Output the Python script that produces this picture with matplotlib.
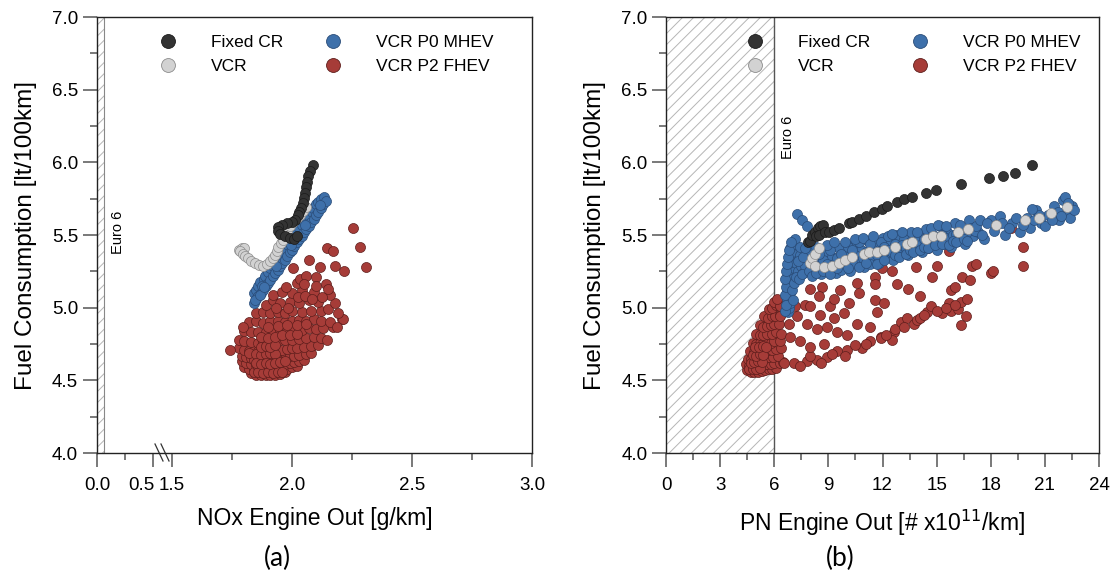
import numpy as np
import matplotlib.pyplot as plt
from matplotlib.patches import Rectangle
from matplotlib.lines import Line2D
from matplotlib.transforms import ScaledTranslation

plt.rcParams['font.family'] = ['Liberation Sans', 'DejaVu Sans']
plt.rcParams['hatch.linewidth'] = 0.7

# ---------------- (a) NOx vs fuel consumption ----------------
a_fixed_x = [2.086, 2.075, 2.068, 2.064, 2.058, 2.054, 2.05, 2.044, 2.038, 2.03,
             2.026, 2.013, 1.999, 1.978, 1.957, 1.943, 1.94, 1.95, 1.97, 1.99,
             2.01, 2.02]
a_fixed_y = [5.98, 5.942, 5.906, 5.867, 5.828, 5.791, 5.752, 5.718, 5.684, 5.66,
             5.638, 5.603, 5.591, 5.58, 5.569, 5.553, 5.53, 5.51, 5.495, 5.48,
             5.475, 5.49]

a_vcr_x = [1.78, 1.79, 1.80, 1.785, 1.797, 1.805, 1.818, 1.83, 1.846, 1.862, 1.88,
           1.895, 1.908, 1.92, 1.929, 1.936, 1.943, 1.954, 1.964, 1.972, 1.98,
           1.992, 2.005, 2.02, 2.033, 2.045, 2.058]
a_vcr_y = [5.40, 5.41, 5.41, 5.39, 5.37, 5.355, 5.34, 5.32, 5.305, 5.295, 5.29,
           5.30, 5.32, 5.34, 5.36, 5.39, 5.42, 5.445, 5.465, 5.50, 5.53,
           5.56, 5.59, 5.615, 5.64, 5.665, 5.69]

a_mhev_x = [1.84, 1.842, 1.85, 1.852, 1.86, 1.858, 1.87, 1.868, 1.88, 1.882,
            1.89, 1.888, 1.90, 1.902, 1.91, 1.908, 1.92, 1.922, 1.93, 1.928,
            1.94, 1.942, 1.95, 1.948, 1.96, 1.962, 1.97, 1.968, 1.98, 1.982,
            1.99, 1.988, 2.00, 2.002, 2.01, 2.008, 2.02, 2.022, 2.03, 2.028,
            2.04, 2.042, 2.05, 2.048, 2.06, 2.062, 2.07, 2.068, 2.08, 2.082,
            2.09, 2.088, 2.10, 2.102, 2.11, 2.108, 2.12, 2.122, 2.13, 2.135,
            2.14, 1.875, 1.935, 1.995, 2.055, 2.115, 1.845, 1.865, 1.885]
a_mhev_y = [5.03, 5.10, 5.06, 5.125, 5.08, 5.15, 5.10, 5.175, 5.12, 5.20,
            5.15, 5.22, 5.17, 5.245, 5.19, 5.27, 5.215, 5.29, 5.24, 5.315,
            5.26, 5.34, 5.285, 5.36, 5.31, 5.385, 5.33, 5.41, 5.355, 5.43,
            5.38, 5.455, 5.40, 5.475, 5.425, 5.50, 5.45, 5.52, 5.47, 5.545,
            5.495, 5.57, 5.52, 5.59, 5.54, 5.615, 5.565, 5.64, 5.59, 5.66,
            5.61, 5.685, 5.635, 5.71, 5.66, 5.73, 5.685, 5.75, 5.71, 5.76,
            5.735, 5.15, 5.29, 5.43, 5.57, 5.705, 5.05, 5.09, 5.14]

a_fhev_x = [1.83, 1.85, 1.87, 1.89, 1.91, 1.93, 1.95, 1.97,
            1.80, 1.82, 1.84, 1.86, 1.88, 1.90, 1.92, 1.94, 1.96, 1.98, 2.00, 2.02,
            1.79, 1.81, 1.83, 1.85, 1.87, 1.89, 1.91, 1.93, 1.95, 1.97, 1.99, 2.01, 2.03, 2.05,
            1.79, 1.81, 1.83, 1.85, 1.87, 1.89, 1.91, 1.93, 1.95, 1.97, 1.99, 2.01, 2.03, 2.06, 2.08,
            1.78, 1.80, 1.82, 1.84, 1.86, 1.88, 1.90, 1.92, 1.94, 1.96, 1.98, 2.00, 2.02, 2.05, 2.08, 2.11,
            1.78, 1.80, 1.83, 1.86, 1.88, 1.91, 1.94, 1.97, 2.00, 2.03, 2.06, 2.09, 2.12, 2.145,
            1.80, 1.83, 1.86, 1.89, 1.92, 1.95, 1.98, 2.01, 2.04, 2.07, 2.10, 2.13, 2.17,
            1.82, 1.85, 1.88, 1.91, 1.94, 1.97, 2.00, 2.03, 2.06, 2.09, 2.12, 2.16, 2.21,
            1.85, 1.88, 1.91, 1.94, 1.97, 2.00, 2.04, 2.08, 2.12, 2.15,
            1.89, 1.92, 1.95, 1.99, 2.03, 2.07, 2.11, 2.18,
            1.92, 1.96, 2.00, 2.04, 2.09, 2.16, 2.14,
            1.975, 2.02, 2.033, 2.005, 2.072, 2.117, 2.145, 2.17, 2.18, 2.217,
            2.256, 2.283, 2.307, 2.06, 2.10,
            1.74, 1.797, 2.214, 2.186,
            1.84, 1.86, 1.88, 1.90, 1.92, 1.84, 1.86, 1.88, 1.90, 1.92, 1.94,
            1.82, 1.85, 1.87, 1.89, 1.91, 1.93, 1.87, 1.89, 1.91, 1.93,
            1.86, 1.88, 1.90, 1.92, 1.94, 1.96, 1.85, 1.87, 1.89, 1.91, 1.93, 1.95, 1.97,
            1.87, 1.90, 1.93, 1.96, 1.99, 2.02, 1.90, 1.94, 1.98, 2.02, 2.06,
            1.935, 1.985, 2.025, 2.055, 2.085, 2.125, 2.05, 2.1, 2.15, 2.19]
a_fhev_y = [4.55, 4.54, 4.535, 4.54, 4.535, 4.54, 4.545, 4.555,
            4.59, 4.58, 4.575, 4.57, 4.565, 4.57, 4.565, 4.57, 4.575, 4.58, 4.59, 4.60,
            4.63, 4.62, 4.61, 4.605, 4.60, 4.60, 4.605, 4.60, 4.61, 4.615, 4.62, 4.625, 4.63, 4.64,
            4.67, 4.66, 4.655, 4.65, 4.645, 4.65, 4.645, 4.65, 4.655, 4.66, 4.665, 4.67, 4.675, 4.68, 4.69,
            4.72, 4.71, 4.705, 4.70, 4.70, 4.695, 4.70, 4.705, 4.70, 4.71, 4.715, 4.72, 4.72, 4.73, 4.735, 4.74,
            4.78, 4.77, 4.765, 4.76, 4.765, 4.76, 4.77, 4.775, 4.78, 4.785, 4.79, 4.80, 4.79, 4.78,
            4.84, 4.83, 4.835, 4.83, 4.84, 4.845, 4.84, 4.85, 4.845, 4.86, 4.85, 4.86, 4.87,
            4.90, 4.91, 4.895, 4.905, 4.91, 4.90, 4.91, 4.915, 4.905, 4.92, 4.91, 4.90, 4.92,
            4.96, 4.97, 4.965, 4.97, 4.96, 4.975, 4.97, 4.98, 4.975, 4.99,
            5.02, 5.05, 5.03, 5.04, 5.03, 5.05, 5.04, 5.03,
            5.09, 5.11, 5.10, 5.12, 5.11, 5.09, 5.16,
            5.14, 5.17, 5.20, 5.27, 5.33, 5.28, 5.41, 5.39, 5.29, 5.25,
            5.55, 5.42, 5.28, 5.22, 5.21,
            4.71, 4.87, 4.92, 4.87,
            4.56, 4.59, 4.58, 4.59, 4.585, 4.64, 4.63, 4.625, 4.635, 4.63, 4.64,
            4.69, 4.68, 4.675, 4.68, 4.685, 4.68, 4.73, 4.735, 4.73, 4.74,
            4.555, 4.55, 4.555, 4.55, 4.555, 4.56, 4.62, 4.615, 4.62, 4.615, 4.62, 4.625, 4.63,
            4.80, 4.79, 4.80, 4.81, 4.81, 4.82, 4.87, 4.875, 4.88, 4.88, 4.89,
            5.00, 5.00, 5.07, 5.08, 5.06, 5.07, 5.16, 5.15, 5.13, 4.96]

# ---------------- (b) PN vs fuel consumption ----------------
b_fixed_x = [7.85, 8.0, 8.1, 8.25, 8.4, 8.55, 8.7, 8.3, 8.5, 8.8,
             9.02, 9.3, 9.57, 10.13, 10.32, 10.69, 11.06, 11.52, 11.98, 12.26,
             12.81, 13.18, 13.65, 14.39, 14.96, 16.37, 17.93, 18.67, 19.33, 20.3]
b_fixed_y = [5.45, 5.46, 5.50, 5.52, 5.55, 5.56, 5.57, 5.49, 5.50, 5.52,
             5.52, 5.535, 5.55, 5.585, 5.59, 5.61, 5.63, 5.66, 5.68, 5.70,
             5.73, 5.745, 5.76, 5.79, 5.81, 5.85, 5.89, 5.905, 5.93, 5.98]

b_vcr_x = [8.0, 8.09, 8.28, 8.46, 8.28, 8.74, 9.2, 9.57, 9.94, 10.32, 10.96,
           11.24, 11.7, 12.07, 12.72, 13.37, 13.65, 14.39, 14.8, 15.22, 16.19,
           16.76, 18.28, 19.89, 20.67, 21.33, 22.22]
b_vcr_y = [5.305, 5.34, 5.37, 5.41, 5.29, 5.28, 5.29, 5.305, 5.33, 5.35, 5.37,
           5.38, 5.385, 5.40, 5.42, 5.44, 5.45, 5.47, 5.49, 5.49, 5.52,
           5.54, 5.57, 5.60, 5.62, 5.65, 5.69]

b_mhev_x = [6.75, 6.8, 6.85, 6.7, 6.8, 6.9, 6.7, 6.85, 6.75, 6.95, 6.7, 6.85, 7.0,
            6.75, 6.9, 7.1, 6.8, 6.95, 7.2, 6.85, 7.0, 6.9, 7.1, 7.17, 7.26, 7.54,
            7.81, 7.4, 7.3, 7.5,
            7.6, 7.8, 8.0, 8.2, 8.4, 8.6, 8.8, 9.0, 9.2, 9.4, 9.6, 9.8, 10.0, 10.2,
            10.4, 10.6, 10.8, 11.0, 11.2, 11.4, 11.6, 11.8, 12.0, 12.2, 12.4, 12.6,
            12.8, 13.0, 13.2, 13.4, 13.6, 13.8, 14.0, 14.2, 14.4, 14.6, 14.8, 15.0,
            15.2, 15.4, 15.6, 15.8, 16.0, 16.2, 16.4, 16.6, 16.8, 17.0, 17.3, 17.6,
            18.0, 18.2, 18.5, 18.8, 19.2, 19.6, 20.0, 20.2, 20.5, 20.8, 21.2, 21.5,
            21.8, 22.0, 22.2, 22.4, 22.5, 22.1,
            7.7, 7.9, 8.1, 8.3, 8.5, 8.7, 8.9, 9.1, 9.3, 9.5, 9.7, 9.9, 10.1, 10.3,
            10.5, 10.7, 10.9, 11.1, 11.3, 11.5, 11.7, 11.9, 12.1, 12.3, 12.5, 12.7,
            12.9, 13.1, 13.3, 13.5, 13.7, 13.9, 14.1, 14.3, 14.5, 14.7, 14.9, 15.1,
            15.3, 15.5, 15.7, 15.9, 16.1, 16.3, 16.5, 16.7, 16.9, 17.1,
            6.6, 6.65, 6.6, 6.65, 6.6, 6.65, 6.7, 6.75, 6.8, 6.95, 7.05, 7.0, 7.1,
            7.2, 7.3, 7.45, 7.35, 7.55, 7.6, 7.7, 7.9, 8.1, 8.3, 8.5, 8.7, 8.9, 9.1,
            9.3, 9.5, 9.7, 9.9, 10.1, 10.3, 10.5, 10.7, 10.9, 11.1, 11.3, 11.5, 11.7,
            11.9, 12.1, 12.3, 12.5, 12.7, 12.9, 13.1, 13.3, 13.5, 13.7, 13.9, 14.1,
            14.3, 14.5, 14.7, 14.9, 15.1, 15.3, 15.5, 15.7, 15.9, 16.1, 16.3, 16.5,
            16.7, 17.2, 17.4, 17.5, 17.8, 18.3, 18.6, 19.0, 19.4, 19.8, 20.4, 20.7,
            21.0, 21.4, 21.7, 22.3, 22.6, 20.3, 21.9]
b_mhev_y = [4.97, 5.00, 5.03, 5.06, 5.08, 5.10, 5.12, 5.15, 5.18, 5.18, 5.21, 5.23, 5.22,
            5.26, 5.28, 5.27, 5.31, 5.33, 5.31, 5.36, 5.38, 5.41, 5.44, 5.47, 5.645, 5.60,
            5.56, 5.36, 5.25, 5.29,
            5.24, 5.33, 5.40, 5.26, 5.34, 5.23, 5.38, 5.26, 5.35, 5.24, 5.41, 5.28, 5.37, 5.25,
            5.44, 5.30, 5.40, 5.28, 5.46, 5.33, 5.43, 5.31, 5.48, 5.36, 5.45, 5.33,
            5.50, 5.38, 5.47, 5.36, 5.52, 5.40, 5.49, 5.38, 5.54, 5.42, 5.50, 5.40,
            5.56, 5.44, 5.52, 5.42, 5.58, 5.46, 5.54, 5.44, 5.60, 5.49, 5.52, 5.47,
            5.60, 5.53, 5.63, 5.50, 5.58, 5.52, 5.62, 5.55, 5.67, 5.58, 5.64, 5.70,
            5.60, 5.74, 5.66, 5.62, 5.70, 5.76,
            5.29, 5.36, 5.31, 5.42, 5.29, 5.33, 5.30, 5.40, 5.30, 5.34, 5.26, 5.33, 5.42, 5.31,
            5.36, 5.45, 5.34, 5.38, 5.30, 5.40, 5.36, 5.45, 5.42, 5.40, 5.38, 5.44,
            5.42, 5.43, 5.41, 5.45, 5.44, 5.46, 5.43, 5.47, 5.47, 5.46, 5.45, 5.48,
            5.50, 5.48, 5.47, 5.50, 5.51, 5.50, 5.49, 5.52, 5.55, 5.53,
            4.98, 5.02, 5.09, 5.14, 5.20, 5.25, 5.30, 5.35, 5.40, 5.45, 5.05, 5.12, 5.17,
            5.21, 5.32, 5.42, 5.20, 5.23, 5.35, 5.41, 5.25, 5.22, 5.24, 5.37, 5.25, 5.43, 5.23,
            5.45, 5.27, 5.37, 5.45, 5.27, 5.40, 5.47, 5.28, 5.48, 5.31, 5.44, 5.49, 5.30,
            5.39, 5.33, 5.49, 5.51, 5.36, 5.35, 5.52, 5.37, 5.40, 5.38, 5.52, 5.40,
            5.42, 5.41, 5.55, 5.43, 5.57, 5.44, 5.56, 5.43, 5.46, 5.45, 5.57, 5.47,
            5.46, 5.56, 5.60, 5.50, 5.58, 5.57, 5.58, 5.55, 5.62, 5.57, 5.60, 5.64,
            5.56, 5.60, 5.66, 5.72, 5.67, 5.68, 5.63]

b_fhev_x = [4.5, 4.7, 4.9, 5.1, 5.3, 5.5, 5.7, 5.9, 6.1,
            4.45, 4.6, 4.8, 5.0, 5.2, 5.4, 5.6, 5.8, 6.0, 6.3, 6.5,
            4.55, 4.7, 4.9, 5.1, 5.3, 5.5, 5.7, 5.95, 6.2,
            4.65, 4.85, 5.05, 5.25, 5.45, 5.65, 5.85, 6.1, 6.4,
            4.8, 5.0, 5.2, 5.4, 5.6, 5.8, 6.0, 6.3,
            5.0, 5.2, 5.4, 5.6, 5.85, 6.1, 6.4,
            5.2, 5.4, 5.6, 5.8, 6.0, 6.25,
            5.45, 5.65, 5.85, 6.05, 6.3,
            5.7, 5.9, 6.1, 6.3, 6.2, 6.0,
            4.6, 4.8, 5.0, 5.2, 4.7, 4.9, 5.1, 5.3, 4.8, 5.0, 5.2, 5.4,
            4.95, 5.15, 5.35, 5.55,
            6.52, 7.07, 7.81, 8.37, 8.93, 9.48, 10.04, 10.87, 11.33, 11.89, 12.63,
            12.54, 12.72, 13.0, 13.37, 13.74, 13.93, 14.07, 14.48, 14.67, 15.31,
            15.69, 15.81, 16.18, 16.33, 16.67, 16.61, 16.33, 11.89, 12.2, 13.2,
            14.3, 15.0, 15.5, 16.0, 7.4, 8.0, 8.6, 9.2, 9.9, 10.5, 11.1,
            6.79, 6.89, 7.44, 8.0, 8.74, 7.26, 7.81, 8.37, 8.93, 9.48, 10.04,
            6.33, 6.33, 6.15, 7.17, 7.72, 8.0, 8.56, 9.11, 9.3, 9.85, 10.17,
            10.6, 11.33, 11.7, 11.61, 12.07,
            8.0, 8.65, 8.46, 9.3, 9.67, 10.6, 10.69, 11.61, 11.61, 11.98, 12.54,
            11.7, 13.83, 12.81, 13.43, 14.07, 9.17, 14.54, 15.69, 16.98, 17.2,
            18.0, 18.1, 15.0, 14.76, 16.39, 16.85, 15.78, 16.0, 19.11, 19.8, 19.76]
b_fhev_y = [4.57, 4.56, 4.555, 4.56, 4.565, 4.57, 4.575, 4.58, 4.585,
            4.61, 4.60, 4.595, 4.60, 4.60, 4.605, 4.61, 4.615, 4.62, 4.62, 4.625,
            4.65, 4.645, 4.65, 4.645, 4.65, 4.655, 4.66, 4.66, 4.665,
            4.70, 4.695, 4.70, 4.705, 4.70, 4.71, 4.71, 4.715, 4.72,
            4.76, 4.75, 4.755, 4.76, 4.765, 4.76, 4.77, 4.77,
            4.82, 4.81, 4.815, 4.82, 4.82, 4.83, 4.82,
            4.88, 4.87, 4.875, 4.88, 4.885, 4.89,
            4.94, 4.93, 4.945, 4.94, 4.95,
            4.99, 5.0, 5.02, 5.01, 5.05, 5.04,
            4.58, 4.58, 4.58, 4.585, 4.62, 4.625, 4.63, 4.625, 4.675, 4.67, 4.68, 4.675,
            4.73, 4.73, 4.735, 4.73,
            4.62, 4.62, 4.63, 4.64, 4.66, 4.70, 4.71, 4.72, 4.77, 4.80, 4.83,
            4.78, 4.85, 4.90, 4.93, 4.89, 4.915, 4.93, 4.97, 5.01, 4.96,
            5.03, 4.98, 4.99, 5.04, 5.06, 4.94, 4.88, 4.79, 4.81, 4.87,
            4.95, 4.98, 5.00, 5.02, 4.60, 4.67, 4.62, 4.68, 4.67, 4.74, 4.75,
            4.89, 4.80, 4.77, 4.73, 4.75, 4.94, 4.89, 4.85, 4.87, 4.83, 4.81,
            4.94, 5.01, 5.06, 5.01, 5.02, 5.01, 4.95, 5.01, 4.93, 4.96, 5.03,
            4.89, 4.87, 4.97, 5.05, 5.03,
            5.13, 5.14, 5.08, 5.06, 5.12, 5.17, 5.10, 5.21, 5.16, 5.27, 5.25,
            5.33, 5.28, 5.16, 5.13, 5.08, 5.25, 5.41, 5.39, 5.29, 5.30,
            5.24, 5.25, 5.29, 5.21, 5.21, 5.19, 5.12, 5.14, 5.55, 5.42, 5.29]

legend_labels = ['Fixed CR', 'VCR', 'VCR P0 MHEV', 'VCR P2 FHEV']
face = {'Fixed CR': '#333333', 'VCR': '#d2d2d2',
        'VCR P0 MHEV': '#3e70aa', 'VCR P2 FHEV': '#a63c38'}
edge = {'Fixed CR': '#1a1a1a', 'VCR': '#8c8c8c',
        'VCR P0 MHEV': '#2a4c78', 'VCR P2 FHEV': '#5e1e1c'}

fig = plt.figure(figsize=(11.19, 5.74), dpi=100)
ax_a = fig.add_axes([97 / 1119, 1 - 453 / 574, 435 / 1119, 436 / 574])
ax_b = fig.add_axes([666 / 1119, 1 - 453 / 574, 433 / 1119, 436 / 574])


# broken NOx axis: 0-0.5 compressed, 0.5-1.5 skipped
def fwd(x):
    x = np.asarray(x, dtype=float)
    return np.where(x <= 0.5, x * 0.4667,
                    np.where(x < 1.5, 0.2333 + (x - 0.5) * 0.0792, 0.3125 + (x - 1.5)))


def inv(u):
    u = np.asarray(u, dtype=float)
    return np.where(u <= 0.2333, u / 0.4667,
                    np.where(u < 0.3125, 0.5 + (u - 0.2333) / 0.0792, 1.5 + (u - 0.3125)))


ax_a.set_xscale('function', functions=(fwd, inv))


def draw_series(ax, data):
    # red first, then blue, grey and black on top
    for i in [3, 2, 1, 0]:
        xs, ys = data[i]
        name = legend_labels[i]
        ax.scatter(xs, ys, s=52, c=face[name], edgecolors=edge[name],
                   linewidths=0.5, zorder=6 - i)


draw_series(ax_a, [(a_fixed_x, a_fixed_y), (a_vcr_x, a_vcr_y),
                   (a_mhev_x, a_mhev_y), (a_fhev_x, a_fhev_y)])
draw_series(ax_b, [(b_fixed_x, b_fixed_y), (b_vcr_x, b_vcr_y),
                   (b_mhev_x, b_mhev_y), (b_fhev_x, b_fhev_y)])

# Euro 6 limit zones
ax_a.add_patch(Rectangle((0, 4.0), 0.06, 3.0, facecolor='none', edgecolor='#b5b5b5',
                         hatch='///', linewidth=0, zorder=1))
ax_a.axvline(0.06, color='#888888', lw=0.8, zorder=2)
ax_b.add_patch(Rectangle((0, 4.0), 6, 3.0, facecolor='none', edgecolor='#b5b5b5',
                         hatch='///', linewidth=0, zorder=1))
ax_b.axvline(6, color='#555555', lw=1.0, zorder=2)
ax_a.text(0.19, 5.52, 'Euro 6', rotation=90, ha='center', va='center', fontsize=10.5)
ax_b.text(6.78, 6.17, 'Euro 6', rotation=90, ha='center', va='center', fontsize=10.5)

ax_a.set_xlim(0, 3.0)
ax_a.set_xticks([0.0, 0.5, 1.5, 2.0, 2.5, 3.0])
ax_a.set_xticklabels(['0.0', '0.5', '1.5', '2.0', '2.5', '3.0'])
ax_a.set_xticks([0.25, 1.75, 2.25, 2.75], minor=True)
ax_b.set_xlim(0, 24)
ax_b.set_xticks(np.arange(0, 25, 3))
ax_b.set_xticks(np.arange(1.5, 24, 3), minor=True)

for ax in (ax_a, ax_b):
    ax.set_ylim(4.0, 7.0)
    ax.set_yticks(np.arange(4.0, 7.01, 0.5))
    ax.set_yticklabels([f'{v:.1f}' for v in np.arange(4.0, 7.01, 0.5)])
    ax.set_yticks(np.arange(4.25, 7.0, 0.5), minor=True)
    ax.tick_params(which='major', direction='out', length=10, width=1.1,
                   color='#555555', labelsize=13.5)
    ax.tick_params(which='minor', direction='out', length=5, width=1.1, color='#555555')
    ax.tick_params(axis='x', pad=7)
    ax.tick_params(axis='y', pad=3.5)
    for sp in ax.spines.values():
        sp.set_linewidth(1.0)
        sp.set_color('#222222')
    ax.set_ylabel('Fuel Consumption [lt/100km]', fontsize=17.5, labelpad=11)
    handles = [Line2D([], [], ls='', marker='o', markersize=10,
                      markerfacecolor=face[n], markeredgecolor=edge[n], markeredgewidth=0.6)
               for n in legend_labels]
    ax.legend(handles, legend_labels, ncol=2, frameon=False, fontsize=12.5,
              loc='upper left', handletextpad=1.45, columnspacing=1.9,
              labelspacing=0.47, borderpad=0, borderaxespad=0,
              bbox_to_anchor=(0.124 if ax is ax_a else 0.166, 0.958))

ax_a.set_xlabel('NOx Engine Out [g/km]', fontsize=16.5, labelpad=10)
ax_b.set_xlabel('PN Engine Out [# x10$^{11}$/km]', fontsize=16.5, labelpad=10)

# shift the crowded 0.5 label slightly left
lab = ax_a.xaxis.get_major_ticks()[1].label1
lab.set_transform(lab.get_transform() + ScaledTranslation(-0.12, 0, fig.dpi_scale_trans))

# break marks on the NOx axis
for x0 in (155, 161):
    ax_a.plot([(x0 - 97) / 435, (x0 + 8 - 97) / 435], [(453 - 444) / 436, (453 - 461) / 436],
              transform=ax_a.transAxes, color='#333333', lw=0.9, clip_on=False)

fig.text(277 / 1119, 1 - 558 / 574, '(a)', ha='center', va='center', fontsize=19,
         family=['Lato', 'DejaVu Sans'])
fig.text(840 / 1119, 1 - 558 / 574, '(b)', ha='center', va='center', fontsize=19,
         family=['Lato', 'DejaVu Sans'])

fig.savefig('out.png', dpi=100)
